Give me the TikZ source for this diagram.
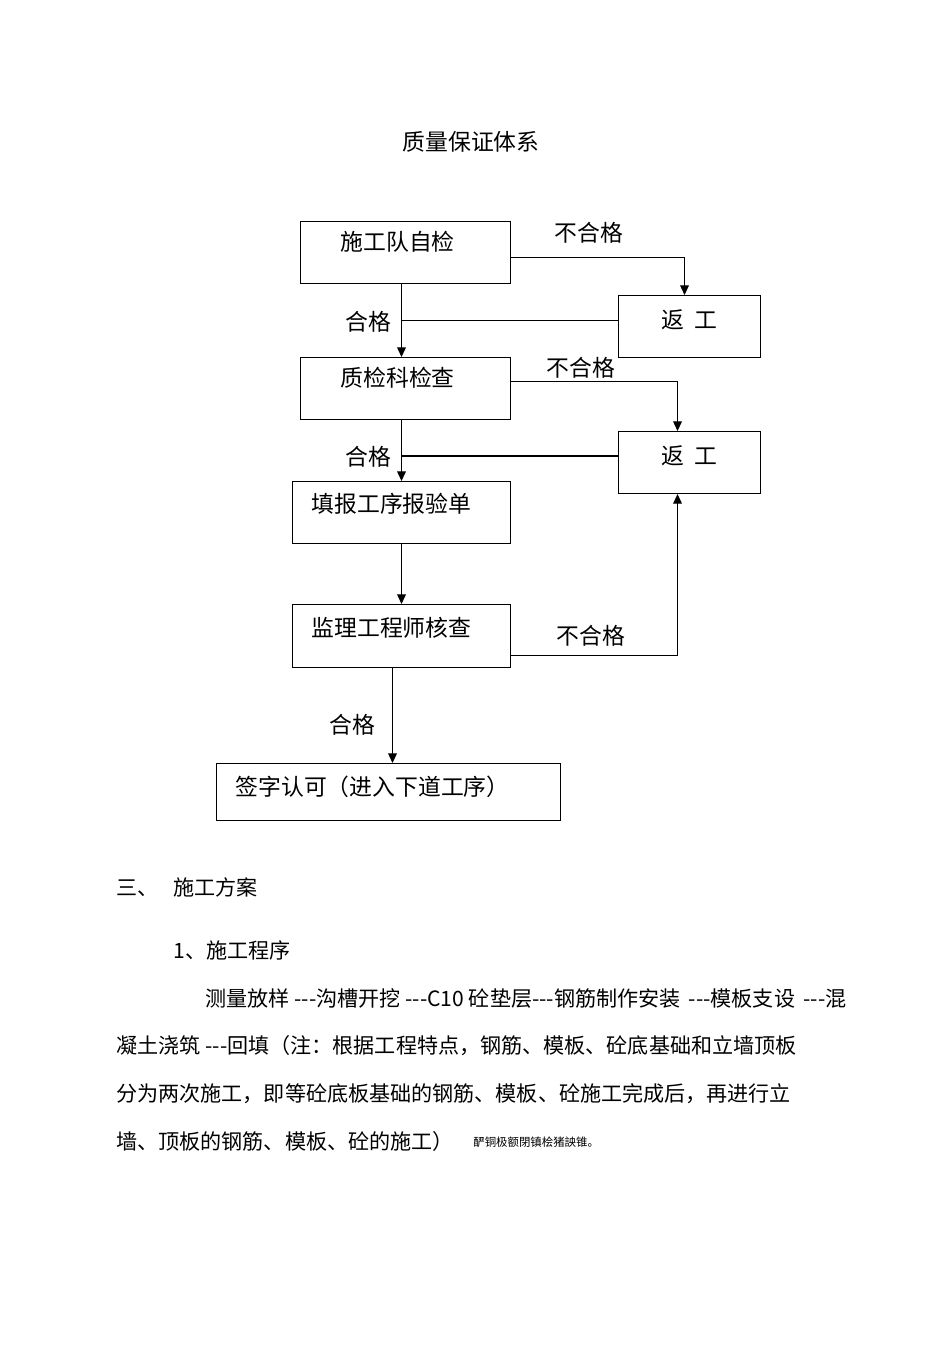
\documentclass[tikz,border=0pt]{standalone}
\usepackage{fontspec}
\newfontfamily\cjk{Noto Sans CJK SC}
\usetikzlibrary{arrows.meta,positioning,calc}

\tikzset{
  box/.style={draw, line width=0.6pt, anchor=north west, inner ysep=0pt, align=left},
  redo/.style={box, align=center, inner xsep=0.22cm, text width=2.4cm,
    text height=0.66cm, text depth=0.58cm},
  arr/.style={line width=0.6pt, -{Triangle[length=5.5pt,width=5pt]}},
  link/.style={line width=0.6pt},
  para/.style={anchor=base west, inner sep=0pt, font=\cjk\fontsize{12pt}{14pt}\selectfont},
}

\begin{document}
\begin{tikzpicture}[x=0.02cm, y=-0.02cm, font=\cjk\fontsize{13pt}{15pt}\selectfont]
  \useasboundingbox (0,0) rectangle (950,1345);
  % title
  \node[anchor=base] (title) at (471,151) {质量保证体系};
  % main boxes
  \node[box, inner xsep=0.8cm, text width=2.6cm, text height=0.58cm, text depth=0.66cm]
    (b1) at (300,221) {施工队自检};
  \node[box, inner xsep=0.8cm, text width=2.6cm, text height=0.58cm, text depth=0.66cm]
    (b2) at (300,357) {质检科检查};
  \node[box, inner xsep=0.38cm, text width=3.6cm, text height=0.62cm, text depth=0.62cm]
    (b3) at (292,481) {填报工序报验单};
  \node[box, inner xsep=0.38cm, text width=3.6cm, text height=0.64cm, text depth=0.62cm]
    (b4) at (292,604) {监理工程师核查};
  \node[box, inner xsep=0.38cm, text width=6.12cm, text height=0.64cm, text depth=0.5cm]
    (b5) at (216,763) {签字认可（进入下道工序）};
  % rework boxes
  \node[redo] (r1) at (618,295) {返\hspace{0.45em}工};
  \node[redo] (r2) at (618,431) {返\hspace{0.45em}工};
  % pass / fail connectors
  \draw[arr] (b1.south -| b3.north) -- (b2.north -| b3.north);
  \draw[arr] (b2.south -| b3.north) -- (b3.north);
  \draw[arr] (b3.south) -- (b4.north);
  \draw[arr] ([xshift=-0.18cm]b4.south) -- ([xshift=-0.18cm]b4.south |- b5.north);
  \draw[link] ([yshift=0.12cm]r1.west) -- ([yshift=0.12cm]r1.west -| b3.north);
  \draw[link, line width=1.2pt] ([yshift=0.13cm]r2.west) -- ([yshift=0.13cm]r2.west -| b3.north);
  \draw[arr] ([yshift=-0.1cm]b1.east) -| ([xshift=-0.1cm]r1.north);
  \draw[arr] ([yshift=0.14cm]b2.east) -| ([xshift=-0.24cm]r2.north);
  \draw[arr] ([yshift=-0.39cm]b4.east) -| ([xshift=-0.24cm]r2.south);
  % labels
  \node (n1) at (589,233) {不合格};
  \node (h1) at (368,322) {合格};
  \node (n2) at (581,368) {不合格};
  \node (h2) at (368,457) {合格};
  \node (n3) at (591,636) {不合格};
  \node (h3) at (352,725) {合格};
  % text below
  \node[para] (s3) at (116,895) {三、};
  \node[para] (s3t) at (173,895) {施工方案};
  \node[para] (s31) at (173,958) {1、施工程序};
  \node[para] (p1) at (205,1006) {测量放样 ---沟槽开挖 ---C10 砼垫层---钢筋制作安装 \hspace{2pt}---模板支设 \hspace{2pt}---混};
  \node[para] (p2) at (116,1053) {凝土浇筑 ---回填（注：根据工程特点，钢筋、模板、砼底基础和立墙顶板};
  \node[para] (p3) at (116,1101) {分为两次施工，即等砼底板基础的钢筋、模板、砼施工完成后，再进行立};
  \node[para] (p4) at (116,1149) {墙、顶板的钢筋、模板、砼的施工）};
  \node[para, font=\cjk\fontsize{6.5pt}{8pt}\selectfont] (p4s) at (473,1146) {酽铜极额閉镇桧猪詇锥。};
\end{tikzpicture}
\end{document}
